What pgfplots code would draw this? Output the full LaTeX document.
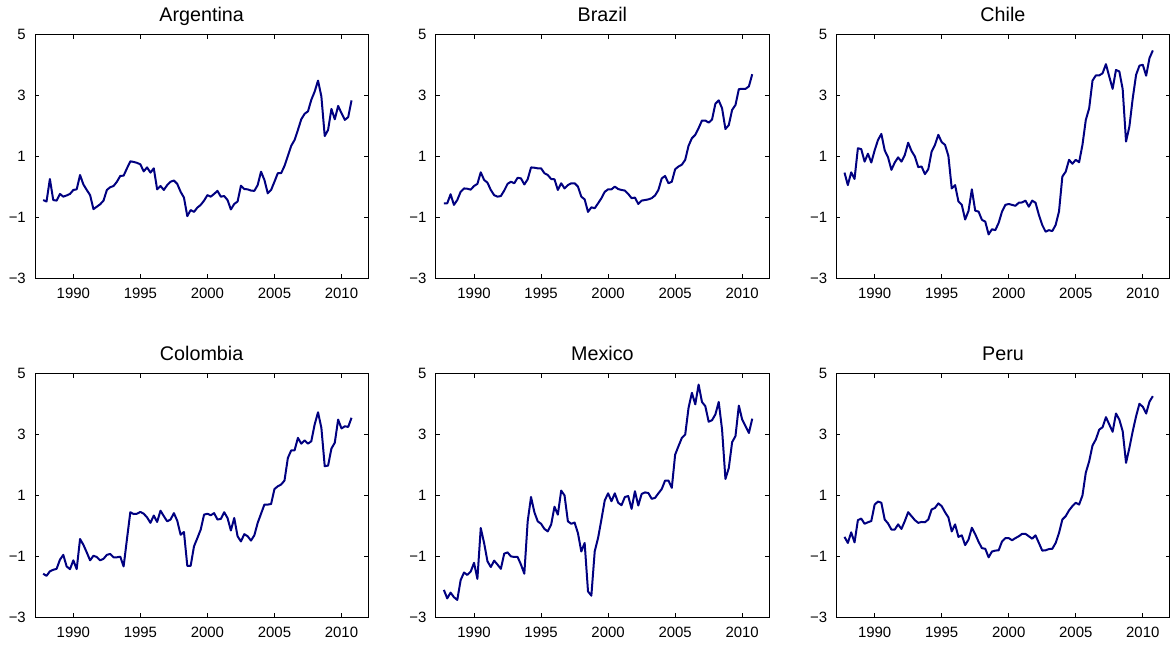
\documentclass[border=0pt]{standalone}
\usepackage{fontspec}
\setmainfont{Liberation Sans}
\usepackage{pgfplots}
\usepackage{pgfplotstable}
\pgfplotsset{compat=1.18}

\definecolor{seriesblue}{RGB}{0,0,128}

% Quarterly index values, 1987Q4--2010Q4
\pgfplotstableread{
t        arg    bra    chl    col    mex    per
1987.75 -0.43  -0.54   0.47  -1.57  -2.10  -0.36
1988.00 -0.48  -0.54   0.06  -1.64  -2.38  -0.56
1988.25  0.26  -0.24   0.48  -1.49  -2.19  -0.21
1988.50 -0.43  -0.59   0.26  -1.44  -2.34  -0.54
1988.75 -0.45  -0.43   1.27  -1.41  -2.43   0.19
1989.00 -0.23  -0.16   1.24  -1.11  -1.78   0.24
1989.25 -0.32  -0.05   0.83  -0.95  -1.53   0.07
1989.50 -0.28  -0.06   1.09  -1.33  -1.61   0.12
1989.75 -0.23  -0.09   0.80  -1.42  -1.50   0.16
1990.00 -0.10   0.03   1.20  -1.13  -1.21   0.70
1990.25 -0.08   0.10   1.54  -1.42  -1.74   0.80
1990.50  0.39   0.48   1.74  -0.43  -0.07   0.76
1990.75  0.08   0.23   1.20  -0.62  -0.56   0.21
1991.00 -0.10   0.14   0.97  -0.87  -1.16   0.08
1991.25 -0.27  -0.10   0.56  -1.13  -1.35  -0.12
1991.50 -0.73  -0.27   0.80  -0.98  -1.14  -0.12
1991.75 -0.65  -0.32   0.97  -1.02  -1.27   0.05
1992.00 -0.57  -0.30   0.83  -1.13  -1.41  -0.10
1992.25 -0.45  -0.12   1.05  -1.08  -0.91   0.16
1992.50 -0.10   0.10   1.45  -0.95  -0.87   0.45
1992.75 -0.01   0.17   1.18  -0.92  -1.00   0.32
1993.00  0.03   0.12   1.00  -1.03  -1.02   0.19
1993.25  0.17   0.30   0.65  -1.03  -1.02   0.10
1993.50  0.36   0.28   0.67  -1.01  -1.27   0.13
1993.75  0.37   0.08   0.42  -1.33  -1.57   0.12
1994.00  0.61   0.25   0.58  -0.43   0.15   0.21
1994.25  0.84   0.64   1.16   0.45   0.95   0.54
1994.50  0.82   0.63   1.38   0.39   0.45   0.59
1994.75  0.79   0.61   1.71   0.40   0.15   0.74
1995.00  0.74   0.61   1.47   0.46   0.07   0.65
1995.25  0.51   0.45   1.38   0.40  -0.10   0.45
1995.50  0.64   0.39   1.02   0.28  -0.18   0.28
1995.75  0.47   0.26  -0.05   0.10   0.04  -0.18
1996.00  0.61   0.25   0.06   0.34   0.63   0.05
1996.25 -0.08  -0.10  -0.48   0.13   0.37  -0.36
1996.50  0.03   0.12  -0.59   0.50   1.16  -0.31
1996.75 -0.10  -0.05  -1.07   0.32   1.00  -0.63
1997.00  0.06   0.06  -0.79   0.15   0.15  -0.45
1997.25  0.17   0.12  -0.08   0.21   0.07  -0.06
1997.50  0.21   0.12  -0.78   0.42   0.11  -0.27
1997.75  0.10   0.01  -0.81   0.17  -0.24  -0.52
1998.00 -0.16  -0.32  -1.08  -0.29  -0.84  -0.73
1998.25 -0.35  -0.41  -1.14  -0.20  -0.56  -0.75
1998.50 -0.96  -0.82  -1.56  -1.31  -2.15  -1.03
1998.75 -0.76  -0.67  -1.39  -1.31  -2.29  -0.84
1999.00 -0.82  -0.70  -1.42  -0.67  -0.84  -0.81
1999.25 -0.68  -0.54  -1.18  -0.40  -0.40  -0.80
1999.50 -0.59  -0.37  -0.81  -0.12   0.21  -0.51
1999.75 -0.45  -0.16  -0.59   0.37   0.84  -0.40
2000.00 -0.27  -0.08  -0.56   0.40   1.07  -0.40
2000.25 -0.32  -0.08  -0.59   0.35   0.81  -0.47
2000.50 -0.23   0.01  -0.62   0.42   1.07  -0.40
2000.75 -0.13  -0.07  -0.52   0.21   0.76  -0.34
2001.00 -0.32  -0.10  -0.51   0.23   0.68  -0.26
2001.25 -0.30  -0.12  -0.45   0.45   0.95  -0.26
2001.50 -0.43  -0.23  -0.65   0.26   0.98  -0.34
2001.75 -0.74  -0.37  -0.45  -0.15   0.56  -0.42
2002.00 -0.56  -0.35  -0.52   0.26   1.14  -0.31
2002.25 -0.48  -0.56  -0.92  -0.34   0.67  -0.56
2002.50  0.04  -0.45  -1.25  -0.51   1.05  -0.81
2002.75 -0.07  -0.43  -1.47  -0.27   1.10  -0.80
2003.00 -0.08  -0.41  -1.42  -0.34   1.08  -0.76
2003.25 -0.12  -0.37  -1.45  -0.48   0.89  -0.75
2003.50 -0.13  -0.28  -1.25  -0.31   0.92  -0.56
2003.75  0.06  -0.10  -0.81   0.10   1.07  -0.23
2004.00  0.50   0.28   0.34   0.40   1.21   0.21
2004.25  0.23   0.36   0.50   0.70   1.49   0.32
2004.50 -0.21   0.12   0.89   0.70   1.49   0.51
2004.75 -0.10   0.17   0.76   0.72   1.25   0.65
2005.00  0.17   0.58   0.89   1.21   2.34   0.76
2005.25  0.45   0.67   0.81   1.30   2.62   0.70
2005.50  0.45   0.73   1.38   1.36   2.89   1.00
2005.75  0.69   0.89   2.20   1.49   3.00   1.75
2006.00  1.02   1.35   2.58   2.23   3.88   2.12
2006.25  1.35   1.60   3.49   2.48   4.37   2.64
2006.50  1.54   1.71   3.66   2.48   3.99   2.84
2006.75  1.87   1.93   3.66   2.89   4.64   3.16
2007.00  2.22   2.18   3.73   2.70   4.07   3.24
2007.25  2.40   2.18   4.03   2.81   3.93   3.57
2007.50  2.48   2.11   3.62   2.70   3.42   3.33
2007.75  2.86   2.21   3.22   2.78   3.47   3.09
2008.00  3.13   2.73   3.84   3.33   3.66   3.69
2008.25  3.49   2.84   3.79   3.73   4.07   3.49
2008.50  2.97   2.58   3.21   3.22   3.16   3.11
2008.75  1.67   1.90   1.49   1.96   1.54   2.07
2009.00  1.87   2.03   1.98   1.98   1.90   2.56
2009.25  2.56   2.53   2.91   2.54   2.75   3.11
2009.50  2.22   2.69   3.68   2.73   2.95   3.60
2009.75  2.66   3.21   3.98   3.49   3.95   4.01
2010.00  2.42   3.22   4.01   3.20   3.49   3.91
2010.25  2.20   3.22   3.65   3.27   3.27   3.69
2010.50  2.29   3.30   4.23   3.25   3.05   4.08
2010.75  2.84   3.70   4.48   3.55   3.52   4.26
}\indexdata

\pgfplotsset{
  panel/.style={
    scale only axis,
    width=333.3bp, height=243.7bp,
    anchor=south west,
    xmin=1987.14, xmax=2012.0,
    ymin=-3, ymax=5,
    xtick={1990,1995,2000,2005,2010},
    xticklabels={1990,1995,2000,2005,2010},
    ytick={-3,-1,1,3,5},
    yticklabels={−3,−1,1,3,5},
    tick align=inside,
    major tick length=4bp,
    tick style={black, line width=0.8bp},
    axis line style={black, line width=0.8bp},
    xticklabel style={font=\fontsize{15}{15}\selectfont, inner sep=0pt, anchor=base, yshift=-20.4bp},
    yticklabel style={font=\fontsize{15}{15}\selectfont, inner sep=0pt, anchor=east, xshift=-9bp},
    title style={font=\fontsize{19.8}{19.8}\selectfont, inner sep=0pt, at={(0.5,1)}, anchor=base, yshift=7bp},
  },
  series/.style={color=seriesblue, line width=2bp, line join=round},
}

\begin{document}
\begin{tikzpicture}
\path[use as bounding box] (0,0) rectangle (1171bp,645bp);

\begin{axis}[panel, at={(35bp,366.7bp)}, title={Argentina}]
  \addplot[series] table[x=t, y=arg] {\indexdata};
\end{axis}
\begin{axis}[panel, at={(435.7bp,366.7bp)}, title={Brazil}]
  \addplot[series] table[x=t, y=bra] {\indexdata};
\end{axis}
\begin{axis}[panel, at={(836.3bp,366.7bp)}, title={Chile}]
  \addplot[series] table[x=t, y=chl] {\indexdata};
\end{axis}

\begin{axis}[panel, at={(35bp,27.7bp)}, title={Colombia}]
  \addplot[series] table[x=t, y=col] {\indexdata};
\end{axis}
\begin{axis}[panel, at={(435.7bp,27.7bp)}, title={Mexico}]
  \addplot[series] table[x=t, y=mex] {\indexdata};
\end{axis}
\begin{axis}[panel, at={(836.3bp,27.7bp)}, title={Peru}]
  \addplot[series] table[x=t, y=per] {\indexdata};
\end{axis}
\end{tikzpicture}
\end{document}
